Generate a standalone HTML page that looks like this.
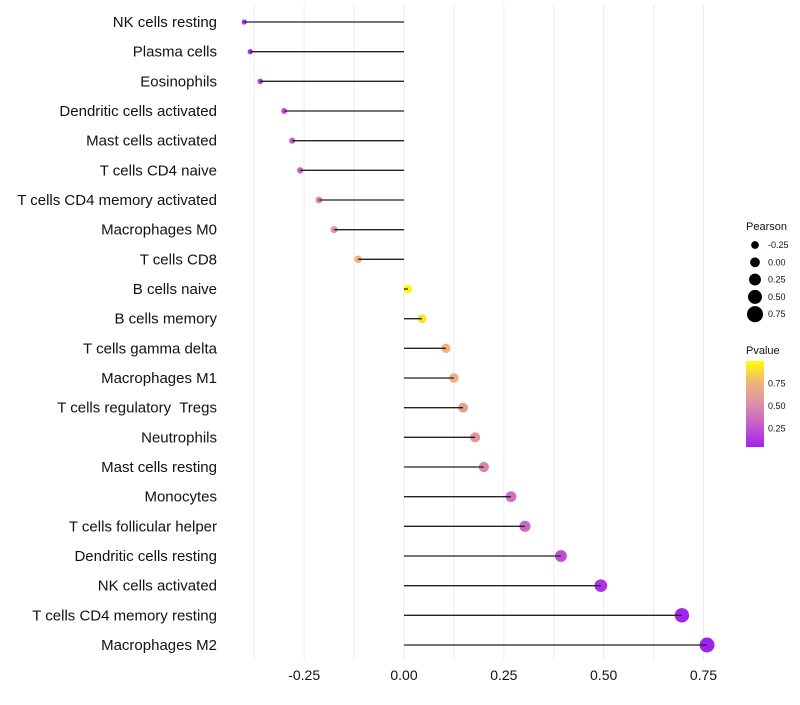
<!DOCTYPE html>
<html><head><meta charset="utf-8"><style>
body{margin:0;background:#fff;font-family:"Liberation Sans",sans-serif}
</style></head><body>
<svg id="chart" width="800" height="700" xmlns="http://www.w3.org/2000/svg">
<defs><linearGradient id="pg" x1="0" y1="1" x2="0" y2="0">
<stop offset="0" stop-color="#a020f0"/><stop offset="0.25" stop-color="#c55ccc"/><stop offset="0.5" stop-color="#de8fa8"/><stop offset="0.75" stop-color="#f0b47a"/><stop offset="1" stop-color="#ffff00"/></linearGradient></defs>
<g id="grid"></g><g id="marks"></g><g id="stems"></g><g id="labels"></g><g id="legend"></g>
</svg>
<script>
const categories=["NK cells resting","Plasma cells","Eosinophils","Dendritic cells activated","Mast cells activated","T cells CD4 naive","T cells CD4 memory activated","Macrophages M0","T cells CD8","B cells naive","B cells memory","T cells gamma delta","Macrophages M1","T cells regulatory  Tregs","Neutrophils","Mast cells resting","Monocytes","T cells follicular helper","Dendritic cells resting","NK cells activated","T cells CD4 memory resting","Macrophages M2"];
const pearson=[-0.40,-0.385,-0.36,-0.30,-0.28,-0.26,-0.213,-0.175,-0.115,0.01,0.045,0.105,0.125,0.148,0.178,0.20,0.268,0.303,0.393,0.493,0.696,0.759];
const pvalue=[0.05,0.07,0.1,0.2,0.25,0.3,0.45,0.55,0.75,0.98,0.9,0.75,0.7,0.6,0.55,0.45,0.35,0.3,0.2,0.08,0.02,0.01];
const xTicks=[-0.25,0,0.25,0.5,0.75];
const xTickLabels=["-0.25","0.00","0.25","0.50","0.75"];
const sizeBreaks=[-0.25,0,0.25,0.5,0.75];
const sizeLabels=["-0.25","0.00","0.25","0.50","0.75"];
const colorBreaks=[0.25,0.5,0.75];
const colorLabels=["0.25","0.50","0.75"];
const NS="http://www.w3.org/2000/svg";
const x=v=>404+v*399.3;
const y=i=>22+i*(623/21);
const r=v=>2.6+(v+0.4)*4.2;
const stops=[[0,[160,32,240]],[0.25,[197,92,204]],[0.5,[222,143,168]],[0.75,[240,180,122]],[1,[255,255,0]]];
function col(p){for(let k=1;k<stops.length;k++){if(p<=stops[k][0]){const a=stops[k-1],b=stops[k],t=(p-a[0])/(b[0]-a[0]);return "rgb("+a[1].map((c,j)=>Math.round(c+(b[1][j]-c)*t)).join(",")+")";}}return "rgb(255,255,0)";}
function mk(tag,at,parent){const e=document.createElementNS(NS,tag);for(const k in at)e.setAttribute(k,at[k]);document.getElementById(parent).appendChild(e);return e;}
for(let g=-0.375;g<=0.751;g+=0.125){const l=mk("line",{x1:x(g),x2:x(g),y1:5,y2:660,stroke:"#ebebeb","stroke-width":1},"grid");

}
xTicks.forEach((t,i)=>{const e=mk("text",{x:x(t),y:680,"text-anchor":"middle","font-size":14,fill:"#111"},"labels");e.textContent=xTickLabels[i];

});
categories.forEach((c,i)=>{
const t=mk("text",{x:217,y:y(i)+5,"text-anchor":"end","font-size":15,fill:"#111","xml:space":"preserve",style:"white-space:pre"},"labels");t.textContent=c;


const d=mk("circle",{cx:x(pearson[i]),cy:y(i),r:r(pearson[i]),fill:col(pvalue[i])},"marks");


const l=mk("line",{x1:x(0),x2:x(pearson[i]),y1:y(i),y2:y(i),stroke:"#222","stroke-width":1.3},"stems");


});
let e=mk("text",{x:746,y:230,"font-size":11,fill:"#111"},"legend");e.textContent="Pearson";


sizeBreaks.forEach((s,i)=>{const cy=245+i*17.3;const c=mk("circle",{cx:755,cy:cy,r:r(s)+0.6,fill:"#000"},"legend");


const t=mk("text",{x:768,y:cy+3,"font-size":9,fill:"#111"},"legend");t.textContent=sizeLabels[i];

});
e=mk("text",{x:746,y:354,"font-size":11,fill:"#111"},"legend");e.textContent="Pvalue";


const bar=mk("rect",{x:746,y:361,width:18,height:86,fill:"url(#pg)"},"legend");


colorBreaks.forEach((p,i)=>{const cy=447-p*86*1.05+4;const t=mk("text",{x:768,y:cy+3,"font-size":9,fill:"#111"},"legend");t.textContent=colorLabels[i];

});
</script>
</body></html>
